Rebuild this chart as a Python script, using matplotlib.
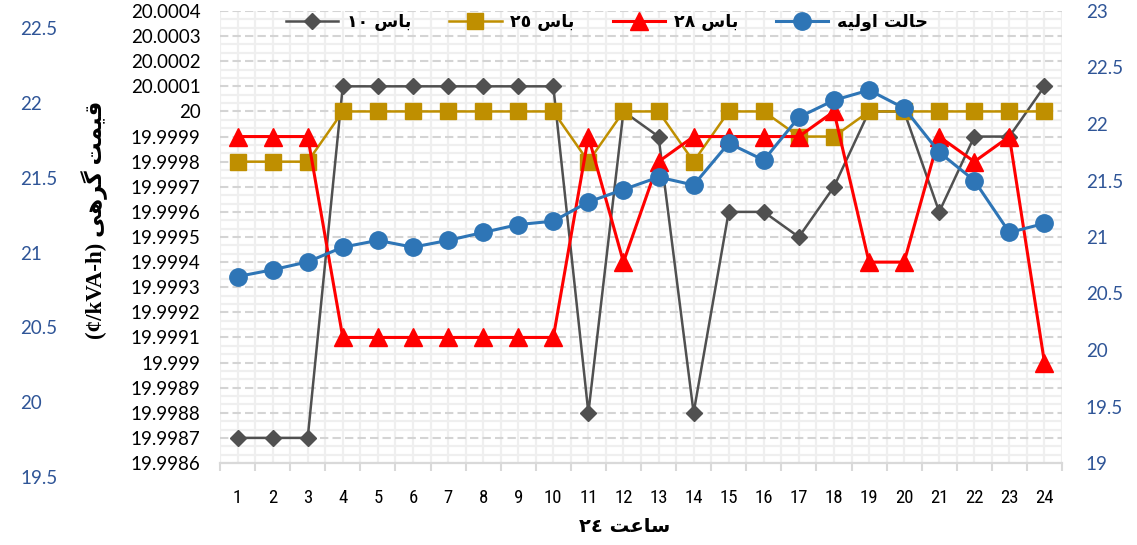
import numpy as np
import matplotlib
matplotlib.use("Agg")
import matplotlib.pyplot as plt
from matplotlib import font_manager as fm
from matplotlib.ticker import FixedLocator, FuncFormatter, MultipleLocator

# ---- data -------------------------------------------------------------
hours = list(range(1, 25))

bus10 = [19.9987, 19.9987, 19.9987, 20.0001, 20.0001, 20.0001, 20.0001, 20.0001,
         20.0001, 20.0001, 19.9988, 20.0000, 19.9999, 19.9988, 19.9996, 19.9996,
         19.9995, 19.9997, 20.0000, 20.0000, 19.9996, 19.9999, 19.9999, 20.0001]

bus25 = [19.9998, 19.9998, 19.9998, 20.0000, 20.0000, 20.0000, 20.0000, 20.0000,
         20.0000, 20.0000, 19.9998, 20.0000, 20.0000, 19.9998, 20.0000, 20.0000,
         19.9999, 19.9999, 20.0000, 20.0000, 20.0000, 20.0000, 20.0000, 20.0000]

bus28 = [19.9999, 19.9999, 19.9999, 19.9991, 19.9991, 19.9991, 19.9991, 19.9991,
         19.9991, 19.9991, 19.9999, 19.9994, 19.9998, 19.9999, 19.9999, 19.9999,
         19.9999, 20.0000, 19.9994, 19.9994, 19.9999, 19.9998, 19.9999, 19.9990]

base = [20.65, 20.71, 20.78, 20.91, 20.97, 20.91, 20.97, 21.04, 21.11, 21.14,
        21.31, 21.42, 21.53, 21.46, 21.83, 21.68, 22.06, 22.21, 22.30, 22.14,
        21.75, 21.50, 21.04, 21.12]

left_ticks = [19.9986, 19.9987, 19.9988, 19.9989, 19.9990, 19.9991, 19.9992,
              19.9993, 19.9994, 19.9995, 19.9996, 19.9997, 19.9998, 19.9999,
              20.0000, 20.0001, 20.0002, 20.0003, 20.0004]
right_ticks = [19, 19.5, 20, 20.5, 21, 21.5, 22, 22.5, 23]
outer_ticks = [19.5, 20, 20.5, 21, 21.5, 22, 22.5]

# Persian labels written in display order with Arabic presentation forms
BAS = "\uFEB1\uFE8E\uFE91"
labels = [
    "\u0661\u0660 " + BAS,
    "\u0662\u0665 " + BAS,
    "\u0662\u0668 " + BAS,
    "\uFEEA\uFEF4\uFEDF\uFEED\uFE8D \uFE96\uFEDF\uFE8E\uFEA3",
]
xlabel = "\u0662\u0664 \uFE96\uFECB\uFE8E\uFEB3"
ylabel = "(\u00a2/kVA-h) \uFEF0\uFEEB\uFEAE\uFB94 \uFE96\uFEE4\uFEF4\uFED7"

# ---- fonts ------------------------------------------------------------
available = {f.name for f in fm.fontManager.ttflist}
def pick(*names):
    for n in names:
        if n in available:
            return n
    return "DejaVu Sans"

num_font = pick("Lato", "Open Sans", "DejaVu Sans")
narrow_font = pick("Liberation Sans Narrow", "Roboto Condensed", "Lato")
serif_font = pick("Liberation Serif", "DejaVu Serif")

# ---- figure -----------------------------------------------------------
W, H = 1137, 545
fig = plt.figure(figsize=(W / 100, H / 100), dpi=100)

x0, x1 = 220, 1062
ytop, ybot = 11, 463
ax = fig.add_axes([x0 / W, 1 - ybot / H, (x1 - x0) / W, (ybot - ytop) / H])

ax.set_xlim(0.5, 24.5)
ax.set_ylim(19.9986, 20.0004)

gray_c, gold_c, red_c, blue_c = "#505050", "#BF8F00", "#FF0000", "#2E75B6"

l1, = ax.plot(hours, bus10, color=gray_c, lw=1.8, marker="D", ms=8.6,
              label=labels[0], zorder=3)
l2, = ax.plot(hours, bus25, color=gold_c, lw=1.8, marker="s", ms=11,
              label=labels[1], zorder=4)
l3, = ax.plot(hours, bus28, color=red_c, lw=2.2, marker="^", ms=12.5,
              label=labels[2], zorder=5)

# grid
ax.yaxis.set_major_locator(FixedLocator(left_ticks))
ax.yaxis.set_minor_locator(MultipleLocator(0.0001 / 3))
ax.xaxis.set_major_locator(FixedLocator(hours))
ax.xaxis.set_minor_locator(FixedLocator(np.arange(0.5, 25, 1.0)))
ax.set_axisbelow(True)
ax.grid(which="minor", axis="both", color="#EFEFEF", lw=1.6, ls="-")
ax.grid(which="major", axis="x", color="#EFEFEF", lw=1.6, ls="-")
ax.grid(which="major", axis="y", color="#D4D4D4", lw=1.5, ls=(0, (4, 2)))

ax.yaxis.set_major_formatter(
    FuncFormatter(lambda v, p: f"{v:.4f}".rstrip("0").rstrip(".")))
ax.tick_params(axis="y", which="both", length=0, pad=14,
               labelsize=13.5, labelcolor="black")
ax.tick_params(axis="x", which="major", length=0, pad=19,
               labelsize=13.5, labelcolor="black")
ax.tick_params(axis="x", which="minor", length=6, width=1.5, color="#D9D9D9")
for lab in ax.get_yticklabels():
    lab.set_fontfamily(num_font)
for lab in ax.get_xticklabels():
    lab.set_fontfamily(narrow_font)

for s in ["top", "right", "left"]:
    ax.spines[s].set_visible(False)
ax.spines["bottom"].set_color("#D9D9D9")
ax.spines["bottom"].set_linewidth(1.6)

# secondary axis for the base case
ax2 = ax.twinx()
ax2.set_ylim(19, 23)
l4, = ax2.plot(hours, base, color=blue_c, lw=2.2, marker="o", ms=12.5,
               label=labels[3], zorder=6)
ax2.yaxis.set_major_locator(FixedLocator(right_ticks))
ax2.yaxis.set_major_formatter(FuncFormatter(lambda v, p: f"{v:g}"))
ax2.tick_params(axis="y", length=0, pad=17, labelsize=13.5,
                labelcolor="#2F5597")
for lab in ax2.get_yticklabels():
    lab.set_fontfamily(num_font)
for s in ax2.spines.values():
    s.set_visible(False)

# outer scale on the far left
ax3 = fig.add_axes([20 / W, 1 - 477 / H, 0.0005, (477 - 28) / H])
ax3.set_ylim(19.5, 22.5)
ax3.patch.set_visible(False)
for s in ax3.spines.values():
    s.set_visible(False)
ax3.xaxis.set_visible(False)
ax3.yaxis.tick_right()
ax3.yaxis.set_major_locator(FixedLocator(outer_ticks))
ax3.yaxis.set_major_formatter(FuncFormatter(lambda v, p: f"{v:g}"))
ax3.tick_params(axis="y", length=0, pad=0, labelsize=13.5,
                labelcolor="#2F5597")
for lab in ax3.get_yticklabels():
    lab.set_fontfamily(num_font)

# legend
leg = fig.legend(handles=[l1, l2, l3, l4], loc="center", ncol=4,
                 bbox_to_anchor=(607 / W, 1 - 22 / H), frameon=False,
                 handlelength=3.0, handletextpad=0.5, columnspacing=2.2,
                 prop={"family": ["DejaVu Sans"], "weight": "bold", "size": 12.5})

# axis titles
fig.text(625 / W, 1 - 527 / H, xlabel, ha="center", va="center",
         fontsize=14, fontweight="bold", family=["DejaVu Sans"])
fig.text(95 / W, 1 - 220 / H, ylabel, ha="center", va="center", rotation=90,
         fontsize=16.5, fontweight="bold", family=[serif_font, "DejaVu Sans"])

fig.savefig("out.png", dpi=100)
